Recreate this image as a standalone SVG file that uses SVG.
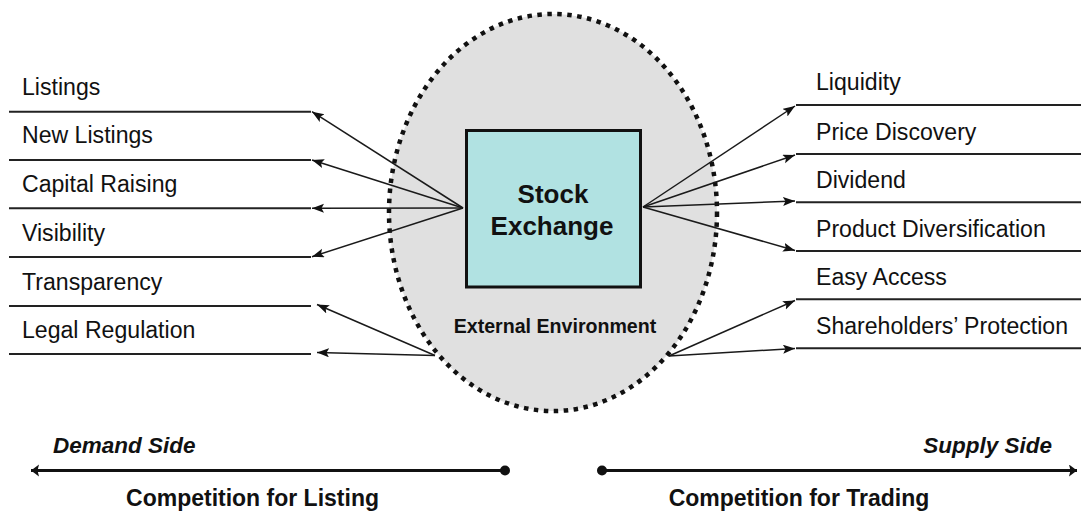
<svg xmlns="http://www.w3.org/2000/svg" width="1081" height="519" viewBox="0 0 1081 519">
  <style>
    .lbl { font-family: "Liberation Sans", Arial, Helvetica, sans-serif; font-size: 23.1px; fill: #111; }
    .bold { font-family: "Liberation Sans", Arial, Helvetica, sans-serif; font-weight: bold; fill: #111; }
    .rule { stroke: #222; stroke-width: 2; fill: none; }
    .conn { stroke: #1a1a1a; stroke-width: 1.5; fill: none; marker-end: url(#tip); }
    .axis { stroke: #111; stroke-width: 3; fill: none; }
  </style>
  <defs>
    <marker id="tip" markerUnits="userSpaceOnUse" markerWidth="13" markerHeight="10" refX="12" refY="4.5" orient="auto">
      <path d="M0,0 L12,4.5 L0,9 L2.5,4.5 z" fill="#111"/>
    </marker>
    <marker id="bigtip" markerUnits="userSpaceOnUse" markerWidth="10" markerHeight="14" refX="8" refY="6" orient="auto">
      <path d="M0,0 L8,6 L0,12 L1.5,6 z" fill="#111"/>
    </marker>
  </defs>

  <rect width="1081" height="519" fill="#ffffff"/>

  <!-- external environment -->
  <g id="environment">
    <ellipse cx="553" cy="212.5" rx="164" ry="198.5" fill="#e0e0e0" stroke="#111" stroke-width="4.5" stroke-dasharray="4.5 5.5"/>
    <text class="bold" x="555" y="332.5" font-size="19.6" text-anchor="middle">External Environment</text>
  </g>

  <!-- demand-side attribute rows -->
  <g id="demand-items">
    <line class="rule" x1="9" y1="111.7" x2="311" y2="111.7"/>
    <line class="rule" x1="9" y1="160" x2="311" y2="160"/>
    <line class="rule" x1="9" y1="208.3" x2="311" y2="208.3"/>
    <line class="rule" x1="9" y1="257" x2="311" y2="257"/>
    <line class="rule" x1="9" y1="306" x2="311" y2="306"/>
    <line class="rule" x1="9" y1="354" x2="311" y2="354"/>
    <text class="lbl" x="22" y="95">Listings</text>
    <text class="lbl" x="22" y="143.3">New Listings</text>
    <text class="lbl" x="22" y="191.7">Capital Raising</text>
    <text class="lbl" x="22" y="240.7">Visibility</text>
    <text class="lbl" x="22" y="290">Transparency</text>
    <text class="lbl" x="22" y="338">Legal Regulation</text>
  </g>

  <!-- supply-side attribute rows -->
  <g id="supply-items">
    <line class="rule" x1="796" y1="105" x2="1081" y2="105"/>
    <line class="rule" x1="796" y1="154" x2="1081" y2="154"/>
    <line class="rule" x1="796" y1="202.3" x2="1081" y2="202.3"/>
    <line class="rule" x1="796" y1="251" x2="1081" y2="251"/>
    <line class="rule" x1="796" y1="299.3" x2="1081" y2="299.3"/>
    <line class="rule" x1="796" y1="348.3" x2="1081" y2="348.3"/>
    <text class="lbl" x="816" y="90">Liquidity</text>
    <text class="lbl" x="816" y="140">Price Discovery</text>
    <text class="lbl" x="816" y="188">Dividend</text>
    <text class="lbl" x="816" y="236.7">Product Diversification</text>
    <text class="lbl" x="816" y="285">Easy Access</text>
    <text class="lbl" x="816" y="334">Shareholders’ Protection</text>
  </g>

  <!-- connectors -->
  <g id="connectors">
    <line class="conn" x1="463" y1="208" x2="312" y2="111.7"/>
    <line class="conn" x1="463" y1="208" x2="312" y2="160"/>
    <line class="conn" x1="463" y1="208" x2="312" y2="208.3"/>
    <line class="conn" x1="463" y1="208" x2="312" y2="256.7"/>
    <line class="conn" x1="435" y1="355.5" x2="317" y2="304.5"/>
    <line class="conn" x1="435" y1="355.5" x2="317" y2="352.5"/>
    <line class="conn" x1="643" y1="207" x2="795" y2="106"/>
    <line class="conn" x1="643" y1="207" x2="795" y2="155"/>
    <line class="conn" x1="643" y1="207" x2="795" y2="201"/>
    <line class="conn" x1="643" y1="207" x2="795" y2="250.5"/>
    <line class="conn" x1="669" y1="356" x2="795" y2="300.5"/>
    <line class="conn" x1="669" y1="356" x2="795" y2="348.5"/>
  </g>

  <!-- central node -->
  <g id="stock-exchange">
    <rect x="466.5" y="130.5" width="174" height="156.5" fill="#b1e2e2" stroke="#111" stroke-width="3"/>
    <text class="bold" x="553" y="203" font-size="26" text-anchor="middle">Stock</text>
    <text class="bold" x="552" y="235" font-size="26" text-anchor="middle">Exchange</text>
  </g>

  <!-- demand axis -->
  <g id="demand-axis">
    <line class="axis" x1="505" y1="470.5" x2="31" y2="470.5" marker-end="url(#bigtip)"/>
    <circle cx="505" cy="470.5" r="5" fill="#111"/>
    <text class="bold" x="53" y="453" font-size="22.5" font-style="italic">Demand Side</text>
    <text class="bold" x="252.5" y="506" font-size="23" text-anchor="middle">Competition for Listing</text>
  </g>

  <!-- supply axis -->
  <g id="supply-axis">
    <line class="axis" x1="602" y1="470.5" x2="1077" y2="470.5" marker-end="url(#bigtip)"/>
    <circle cx="602" cy="470.5" r="5" fill="#111"/>
    <text class="bold" x="1052" y="453" font-size="22.5" font-style="italic" text-anchor="end">Supply Side</text>
    <text class="bold" x="799" y="506" font-size="23" text-anchor="middle">Competition for Trading</text>
  </g>
</svg>
